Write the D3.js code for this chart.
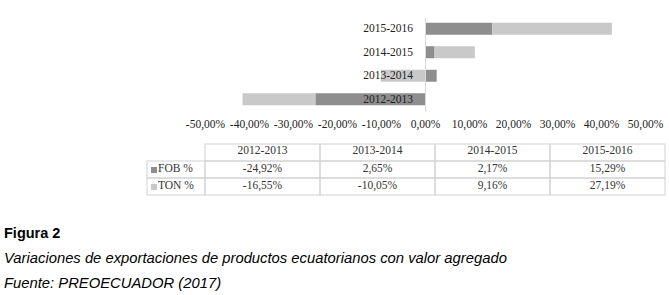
<!DOCTYPE html>
<html>
<head>
<meta charset="utf-8">
<script src="https://cdn.jsdelivr.net/npm/d3@7"></script>
<style>
  body { margin: 0; background: #fff; }
  svg { display: block; }
</style>
</head>
<body>
<div class="container"></div>
<script>
// data
const years = ["2012-2013", "2013-2014", "2014-2015", "2015-2016"];
const fob = [-24.92, 2.65, 2.17, 15.29];
const ton = [-16.55, -10.05, 9.16, 27.19];
const seriesNames = ["FOB %", "TON %"];
const xTicks = [-50, -40, -30, -20, -10, 0, 10, 20, 30, 40, 50];
const caption = [
  "Figura 2",
  "Variaciones de exportaciones de productos ecuatorianos con valor agregado",
  "Fuente: PREOECUADOR (2017)"
];

const width = 669;
const height = 295;
const colors = ["#8e8e8e", "#c9c9c9"];
const serif = "'Liberation Serif', 'Times New Roman', serif";

const locale = d3.formatLocale({decimal: ",", thousands: ".", grouping: [3], currency: ["", ""], minus: "-"});
const pct = v => locale.format(".2f")(v) + "%";

const svg = d3.select("div.container")
    .append("svg")
    .attr("width", width)
    .attr("height", height);

const rows = years.map((y, i) => ({year: y, "FOB %": fob[i], "TON %": ton[i]}));
const stacked = d3.stack()
    .keys(seriesNames)
    .offset(d3.stackOffsetDiverging)(rows);

const x = d3.scaleLinear().domain([-50, 50]).range([205, 645]);
const y = d3.scaleBand()
    .domain(years.slice().reverse())
    .range([17, 111])
    .paddingInner(0.49)
    .paddingOuter(0.245);

// bars
svg.append("g")
    .selectAll("g")
    .data(stacked)
    .enter()
    .append("g")
    .attr("fill", (d, i) => colors[i])
    .selectAll("rect")
    .data(d => d)
    .enter()
    .append("rect")
    .attr("x", d => x(Math.min(d[0], d[1])))
    .attr("width", d => Math.abs(x(d[1]) - x(d[0])))
    .attr("y", d => y(d.data.year))
    .attr("height", y.bandwidth());

// category axis at zero
const yAxis = svg.append("g")
    .attr("transform", `translate(${x(0)},0)`)
    .call(d3.axisLeft(y).tickSize(0).tickPadding(12).tickSizeOuter(0));
yAxis.select(".domain").attr("stroke", "#d9d9d9").attr("stroke-width", 1);
yAxis.selectAll("text")
    .attr("font-family", serif)
    .attr("font-size", 11.5)
    .attr("fill", "#222");

// value axis labels
const xAxis = svg.append("g")
    .attr("transform", "translate(0,117)")
    .call(d3.axisBottom(x).tickValues(xTicks).tickFormat(pct).tickSize(0).tickPadding(3));
xAxis.select(".domain").remove();
xAxis.selectAll("text")
    .attr("font-family", serif)
    .attr("font-size", 11.5)
    .attr("fill", "#222");

// data table
const colX = d3.scaleBand().domain(years).range([205, 665]);
const rowTop = [144, 161, 178];
const rowH = 17;
const tableLeft = 147;
const table = svg.append("g").attr("font-family", serif).attr("font-size", 11.5).attr("fill", "#333");
const border = "#d2d2d2";

// header row cells
years.forEach(yr => {
  table.append("rect")
      .attr("x", colX(yr)).attr("y", rowTop[0])
      .attr("width", colX.bandwidth()).attr("height", rowH)
      .attr("fill", "none").attr("stroke", border);
  table.append("text")
      .attr("x", colX(yr) + colX.bandwidth() / 2).attr("y", rowTop[0] + 10)
      .attr("text-anchor", "middle").text(yr);
});

[fob, ton].forEach((vals, r) => {
  const top = rowTop[r + 1];
  table.append("rect")
      .attr("x", tableLeft).attr("y", top)
      .attr("width", colX(years[0]) - tableLeft).attr("height", rowH)
      .attr("fill", "none").attr("stroke", border);
  table.append("rect")
      .attr("x", tableLeft + 4).attr("y", top + 6)
      .attr("width", 6).attr("height", 6)
      .attr("fill", colors[r]);
  table.append("text")
      .attr("x", tableLeft + 11).attr("y", top + 10.5)
      .text(seriesNames[r]);
  vals.forEach((v, i) => {
    table.append("rect")
        .attr("x", colX(years[i])).attr("y", top)
        .attr("width", colX.bandwidth()).attr("height", rowH)
        .attr("fill", "none").attr("stroke", border);
    table.append("text")
        .attr("x", colX(years[i]) + colX.bandwidth() / 2).attr("y", top + 10.5)
        .attr("text-anchor", "middle").text(pct(v));
  });
});

// caption
const cap = svg.append("g").attr("font-family", "'Liberation Sans', Arial, sans-serif").attr("fill", "#000");
cap.append("text").attr("x", 4).attr("y", 238).attr("font-size", 14.5).attr("font-weight", "bold").text(caption[0]);
cap.append("text").attr("x", 4).attr("y", 263).attr("font-size", 14.8).attr("font-style", "italic").text(caption[1]);
cap.append("text").attr("x", 4).attr("y", 288).attr("font-size", 14.8).attr("font-style", "italic").text(caption[2]);
</script>
</body>
</html>
